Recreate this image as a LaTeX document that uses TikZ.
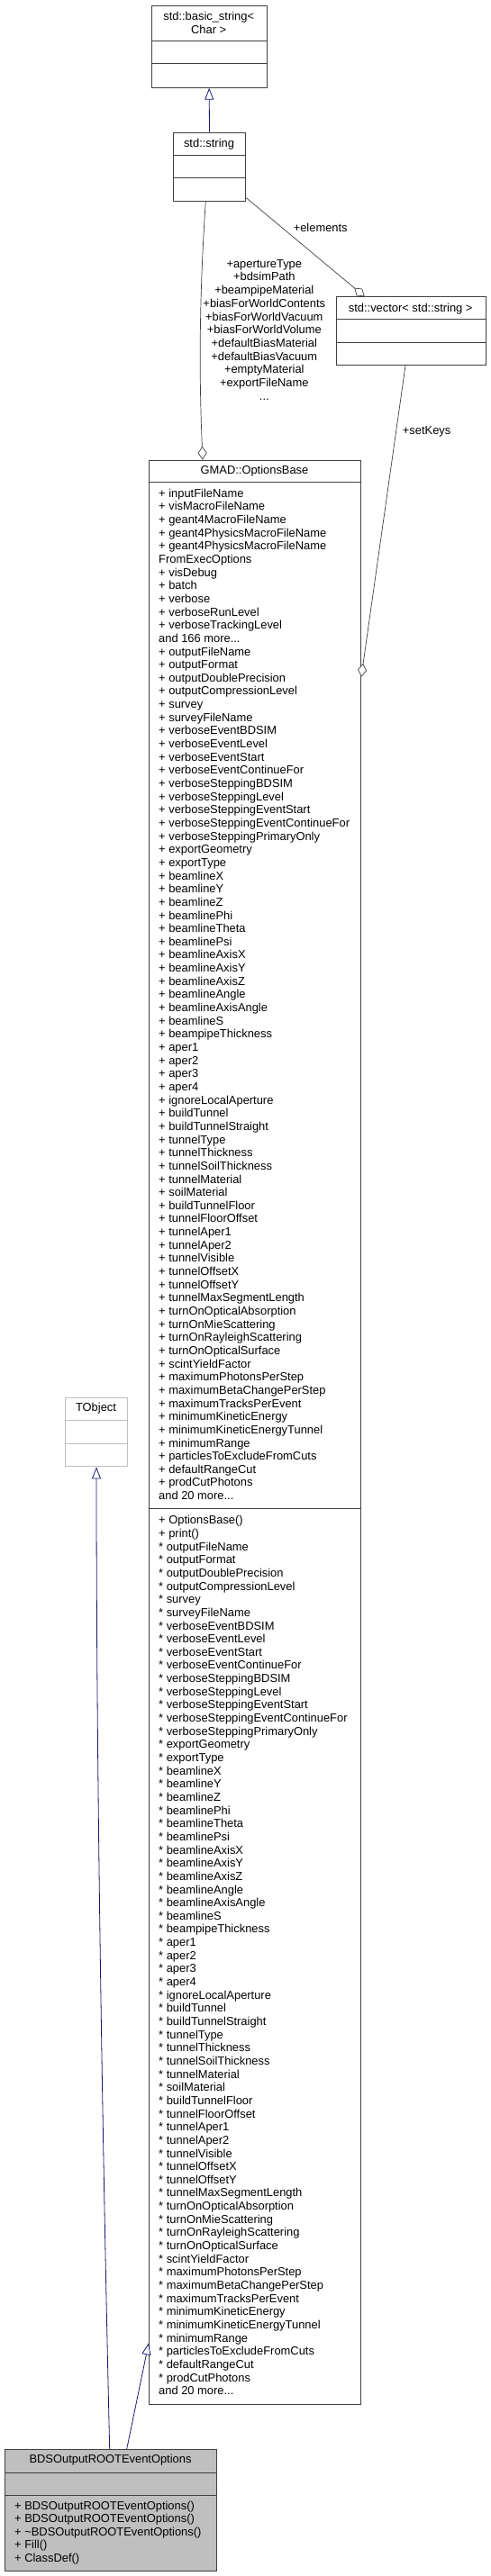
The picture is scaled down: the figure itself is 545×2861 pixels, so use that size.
\documentclass[tikz,border=0pt]{standalone}
\usepackage{fontspec}
\setmainfont{Liberation Sans}
\usetikzlibrary{arrows.meta,calc}
\definecolor{edgeblue}{HTML}{191970}
\definecolor{boxline}{HTML}{404040}
\definecolor{lightline}{HTML}{BFBFBF}
\definecolor{bdsgray}{HTML}{BFBFBF}
\newcommand\tdots{...}
\begin{document}
\begin{tikzpicture}[x=1pt,y=-1pt,
 cls/.style={draw=boxline, line width=1pt, fill=white, inner sep=0pt, anchor=north west},
 sepl/.style={draw=boxline, line width=1pt},
 txt/.style={font=\fontsize{12.9}{14.65}\selectfont, inner sep=0pt},
 inh/.style={draw=edgeblue, line width=0.8pt, -{Triangle[fill=white, length=13pt, width=10pt]}},
 agg/.style={draw=boxline, line width=0.7pt, -{Diamond[fill=white, length=15pt, width=10pt]}},
]
\useasboundingbox (0,0) rectangle (545,2861);

% std::basic_string<Char>
\node[cls, minimum width=128pt, minimum height=91pt] (bs) at (167.7,5.7) {};
\draw[sepl] ($(bs.north west)+(0,40)$) -- ($(bs.north east)+(0,40)$);
\draw[sepl] ($(bs.north west)+(0,65.3)$) -- ($(bs.north east)+(0,65.3)$);
\node[txt, align=center] (bst) at (231.7,25.5) {std::basic\_string<\\Char >};

% std::string
\node[cls, minimum width=80.6pt, minimum height=76pt] (str) at (191.7,146.7) {};
\draw[sepl] ($(str.north west)+(0,26)$) -- ($(str.north east)+(0,26)$);
\draw[sepl] ($(str.north west)+(0,51)$) -- ($(str.north east)+(0,51)$);
\node[txt, anchor=base] (strt) at (232,163.2) {std::string};

% std::vector
\node[cls, minimum width=166pt, minimum height=75.7pt] (vec) at (372.7,329.3) {};
\draw[sepl] ($(vec.north west)+(0,24.7)$) -- ($(vec.north east)+(0,24.7)$);
\draw[sepl] ($(vec.north west)+(0,50.7)$) -- ($(vec.north east)+(0,50.7)$);
\node[txt, anchor=base] (vect) at (455.7,346) {std::vector< std::string >};

% GMAD::OptionsBase
\node[cls, minimum width=235pt, minimum height=2159.3pt] (ob) at (165,510.7) {};
\draw[sepl] ($(ob.north west)+(0,24.3)$) -- ($(ob.north east)+(0,24.3)$);
\draw[sepl] ($(ob.north west)+(0,1165)$) -- ($(ob.north east)+(0,1165)$);
\node[txt, anchor=base] (obt) at (282.5,526.8) {GMAD::OptionsBase};
\foreach \t [count=\i] in {
{+ inputFileName},{+ visMacroFileName},{+ geant4MacroFileName},{+ geant4PhysicsMacroFileName},
{+ geant4PhysicsMacroFileName},{FromExecOptions},{+ visDebug},{+ batch},{+ verbose},
{+ verboseRunLevel},{+ verboseTrackingLevel},{and 166 more\tdots},{+ outputFileName},
{+ outputFormat},{+ outputDoublePrecision},{+ outputCompressionLevel},{+ survey},
{+ surveyFileName},{+ verboseEventBDSIM},{+ verboseEventLevel},{+ verboseEventStart},
{+ verboseEventContinueFor},{+ verboseSteppingBDSIM},{+ verboseSteppingLevel},
{+ verboseSteppingEventStart},{+ verboseSteppingEventContinueFor},{+ verboseSteppingPrimaryOnly},
{+ exportGeometry},{+ exportType},{+ beamlineX},{+ beamlineY},{+ beamlineZ},{+ beamlinePhi},
{+ beamlineTheta},{+ beamlinePsi},{+ beamlineAxisX},{+ beamlineAxisY},{+ beamlineAxisZ},
{+ beamlineAngle},{+ beamlineAxisAngle},{+ beamlineS},{+ beampipeThickness},{+ aper1},
{+ aper2},{+ aper3},{+ aper4},{+ ignoreLocalAperture},{+ buildTunnel},{+ buildTunnelStraight},
{+ tunnelType},{+ tunnelThickness},{+ tunnelSoilThickness},{+ tunnelMaterial},{+ soilMaterial},
{+ buildTunnelFloor},{+ tunnelFloorOffset},{+ tunnelAper1},{+ tunnelAper2},{+ tunnelVisible},
{+ tunnelOffsetX},{+ tunnelOffsetY},{+ tunnelMaxSegmentLength},{+ turnOnOpticalAbsorption},
{+ turnOnMieScattering},{+ turnOnRayleighScattering},{+ turnOnOpticalSurface},
{+ scintYieldFactor},{+ maximumPhotonsPerStep},{+ maximumBetaChangePerStep},
{+ maximumTracksPerEvent},{+ minimumKineticEnergy},{+ minimumKineticEnergyTunnel},
{+ minimumRange},{+ particlesToExcludeFromCuts},{+ defaultRangeCut},{+ prodCutPhotons},
{and 20 more\tdots}}
  \node[txt, anchor=base west] (oa\i) at (176,{552.2+(\i-1)*14.65}) {\t};
\foreach \t [count=\i] in {
{+ OptionsBase()},{+ print()},{* outputFileName},{* outputFormat},{* outputDoublePrecision},
{* outputCompressionLevel},{* survey},{* surveyFileName},{* verboseEventBDSIM},
{* verboseEventLevel},{* verboseEventStart},{* verboseEventContinueFor},{* verboseSteppingBDSIM},
{* verboseSteppingLevel},{* verboseSteppingEventStart},{* verboseSteppingEventContinueFor},
{* verboseSteppingPrimaryOnly},{* exportGeometry},{* exportType},{* beamlineX},{* beamlineY},
{* beamlineZ},{* beamlinePhi},{* beamlineTheta},{* beamlinePsi},{* beamlineAxisX},
{* beamlineAxisY},{* beamlineAxisZ},{* beamlineAngle},{* beamlineAxisAngle},{* beamlineS},
{* beampipeThickness},{* aper1},{* aper2},{* aper3},{* aper4},{* ignoreLocalAperture},
{* buildTunnel},{* buildTunnelStraight},{* tunnelType},{* tunnelThickness},
{* tunnelSoilThickness},{* tunnelMaterial},{* soilMaterial},{* buildTunnelFloor},
{* tunnelFloorOffset},{* tunnelAper1},{* tunnelAper2},{* tunnelVisible},{* tunnelOffsetX},
{* tunnelOffsetY},{* tunnelMaxSegmentLength},{* turnOnOpticalAbsorption},
{* turnOnMieScattering},{* turnOnRayleighScattering},{* turnOnOpticalSurface},
{* scintYieldFactor},{* maximumPhotonsPerStep},{* maximumBetaChangePerStep},
{* maximumTracksPerEvent},{* minimumKineticEnergy},{* minimumKineticEnergyTunnel},
{* minimumRange},{* particlesToExcludeFromCuts},{* defaultRangeCut},{* prodCutPhotons},
{and 20 more\tdots}}
  \node[txt, anchor=base west] (om\i) at (176,{1692.8+(\i-1)*14.65}) {\t};

% TObject
\node[cls, draw=lightline, minimum width=68.4pt, minimum height=76pt] (tob) at (72.3,1552.3) {};
\draw[sepl, draw=lightline] ($(tob.north west)+(0,25.4)$) -- ($(tob.north east)+(0,25.4)$);
\draw[sepl, draw=lightline] ($(tob.north west)+(0,51)$) -- ($(tob.north east)+(0,51)$);
\node[txt, anchor=base] (tobt) at (106.5,1567.8) {TObject};

% BDSOutputROOTEventOptions
\node[cls, fill=bdsgray, minimum width=235pt, minimum height=135pt] (bds) at (5,2720) {};
\draw[sepl] ($(bds.north west)+(0,26)$) -- ($(bds.north east)+(0,26)$);
\draw[sepl] ($(bds.north west)+(0,51)$) -- ($(bds.north east)+(0,51)$);
\node[txt, anchor=base] (bdst) at (122.5,2735.8) {BDSOutputROOTEventOptions};
\foreach \t [count=\i] in {
{+ BDSOutputROOTEventOptions()},{+ BDSOutputROOTEventOptions()},
{+ \textasciitilde BDSOutputROOTEventOptions()},{+ Fill()},{+ ClassDef()}}
  \node[txt, anchor=base west] (bm\i) at (16,{2787+(\i-1)*14.65}) {\t};

% connectors
\draw[inh] (str.north) -- (bs.south);
\draw[agg] ($(str.south west)+(36.6,0)$) .. controls (221,330) and (221,420) .. ($(ob.north west)+(60,0)$);
\draw[agg] ($(str.south east)+(0,-4)$) -- ($(vec.north west)+(32,0)$);
\draw[agg] ($(vec.south west)+(77.3,0)$) -- ($(ob.north east)+(0,241)$);
\draw[inh] ($(bds.north west)+(116.7,0)$) .. controls (113,2350) and (107,1950) .. (tob.south);
\draw[inh] ($(bds.north west)+(135.7,0)$) -- ($(ob.north west)+(0,2091.6)$);

% edge labels
\node[txt] (lel) at (355.7,253) {+elements};
\node[txt, anchor=base west] (lsk) at (446.7,482.5) {+setKeys};
\foreach \t [count=\i] in {{+apertureType},{+bdsimPath},{+beampipeMaterial},
{+biasForWorldContents},{+biasForWorldVacuum},{+biasForWorldVolume},{+defaultBiasMaterial},
{+defaultBiasVacuum},{+emptyMaterial},{+exportFileName},{\tdots}}
  \node[txt, anchor=base] (lab\i) at (293.3,{297.2+(\i-1)*14.7}) {\t};
\end{tikzpicture}
\end{document}
